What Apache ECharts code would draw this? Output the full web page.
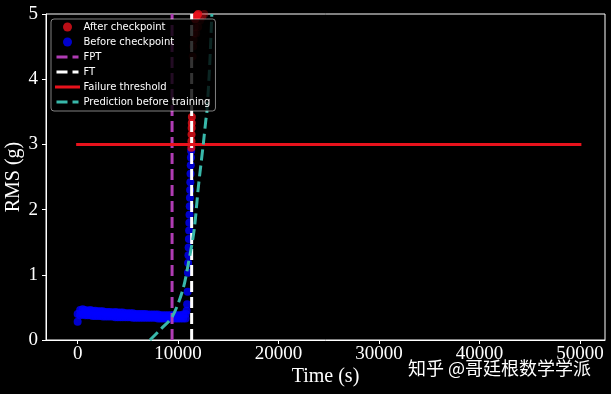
<!DOCTYPE html>
<html><head><meta charset="utf-8">
<script src="https://cdn.jsdelivr.net/npm/echarts@6/dist/echarts.min.js"></script>
<style>html,body{margin:0;padding:0;background:#000}#c{width:611px;height:394px}</style>
</head><body><div id="c"></div>
<script>
// ---- data ----
const xTicks = [0, 10000, 20000, 30000, 40000, 50000];
const yTicks = [0, 1, 2, 3, 4, 5];

// before checkpoint: slowly varying band (upper & lower edge of the dense cloud)
const beforeX = [0,250,500,750,1000,1250,1500,1750,2000,2250,2500,2750,3000,3250,3500,3750,4000,4250,4500,4750,5000,5250,5500,5750,6000,6250,6500,6750,7000,7250,7500,7750,8000,8250,8500,8750,9000,9250,9500,9750,10000,10250,10500,10750];
const beforeHigh = [0.40,0.46,0.47,0.46,0.45,0.46,0.45,0.45,0.44,0.44,0.44,0.43,0.43,0.43,0.42,0.43,0.42,0.42,0.42,0.41,0.41,0.41,0.41,0.40,0.40,0.40,0.40,0.40,0.39,0.39,0.39,0.39,0.39,0.38,0.38,0.38,0.38,0.38,0.38,0.38,0.38,0.38,0.39,0.40];
const beforeLow  = [0.28,0.38,0.39,0.38,0.38,0.38,0.37,0.37,0.37,0.37,0.36,0.36,0.36,0.36,0.36,0.35,0.35,0.35,0.35,0.35,0.35,0.35,0.34,0.34,0.34,0.34,0.34,0.34,0.34,0.34,0.34,0.34,0.33,0.33,0.33,0.33,0.33,0.33,0.33,0.33,0.33,0.33,0.33,0.33];
// before checkpoint: steep rise
const riseX = [10850,10900,10950,10980,11000,11030,11050,11080,11100,11120,11140,11160,11180,11200,11220,11240,11260,11280,11300];
const riseY = [0.45,0.55,0.74,1.03,1.18,1.30,1.42,1.55,1.68,1.80,1.92,2.05,2.18,2.30,2.42,2.55,2.68,2.80,2.90];

// after checkpoint
const afterX = [11320,11330,11340,11350,11360,11370,11700,11800,11900,12000,12100,12200];
const afterY = [2.95,3.05,3.15,3.25,3.33,3.42,4.92,4.96,4.98,5.00,5.02,5.04];
const afterFadeX = [11450,11500,11550,11600,11650,11800,12000,12200,12400,12600];
const afterFadeY = [4.35,4.50,4.60,4.70,4.80,4.70,4.80,4.90,4.95,5.00];

const fptX = 9400;
const ftX = 11350;
const thresholdX = [0, 50000];
const thresholdY = 3;

const predX = [7200,8300,9430,10470,11030,11600,12020,12520,12760,12860,13140,13360];
const predY = [0.00,0.17,0.36,0.77,1.18,1.69,2.35,3.02,3.37,3.48,4.20,5.00];

// ---- build ----
const beforeData = [];
beforeX.forEach((x, i) => { beforeData.push([x, beforeHigh[i]]); beforeData.push([x, beforeLow[i]]); });
riseX.forEach((x, i) => beforeData.push([x, riseY[i]]));
const afterData = afterX.map((x, i) => [x, afterY[i]]);
afterFadeX.forEach((x, i) => afterData.push({ value: [x, afterFadeY[i]], itemStyle: { opacity: 0.3 } }));

const serif = 'Liberation Serif';
const dash = [11, 5];
const lineLegend = (name, color, type) => ({ name, itemStyle: { opacity: 0 }, lineStyle: { color, width: 3, type, opacity: 1 } });

const chart = echarts.init(document.getElementById('c'), null, { renderer: 'canvas' });
chart.setOption({
  backgroundColor: '#000',
  animation: false,
  grid: { left: 46, right: 6, top: 14, bottom: 54, outerBoundsMode: 'none', containLabel: false,
          show: true, borderColor: '#fff', borderWidth: 1, backgroundColor: 'transparent' },
  legend: {
    left: 51, top: 19, orient: 'vertical',
    padding: [2, 5, 3, 4], itemGap: 3, itemWidth: 22, itemHeight: 9,
    backgroundColor: 'rgba(0,0,0,0.8)', borderColor: 'rgba(255,255,255,0.5)', borderWidth: 1, borderRadius: 3,
    textStyle: { color: '#fff', fontFamily: 'DejaVu Sans', fontSize: 10, lineHeight: 12 },
    data: [
      { name: 'After checkpoint', icon: 'circle' },
      { name: 'Before checkpoint', icon: 'circle' },
      lineLegend('FPT', '#b03cb4', dash),
      lineLegend('FT', '#ffffff', dash),
      lineLegend('Failure threshold', '#e8121c', 'solid'),
      lineLegend('Prediction before training', '#38b8aa', dash)
    ]
  },
  xAxis: {
    type: 'value', min: -3150, max: 52500,
    name: 'Time (s)', nameLocation: 'middle', nameGap: 27, nameMoveOverlap: false,
    nameTextStyle: { color: '#fff', fontFamily: serif, fontSize: 20 },
    axisLine: { show: true, onZero: false, lineStyle: { color: '#fff', width: 1 } },
    axisTick: { show: true, inside: false, length: 4, customValues: xTicks, lineStyle: { color: '#fff' } },
    axisLabel: { customValues: xTicks, color: '#fff', fontFamily: serif, fontSize: 19, margin: 5,
                 formatter: v => String(v) },
    splitLine: { show: false }
  },
  yAxis: {
    type: 'value', min: 0, max: 5, interval: 1,
    name: 'RMS (g)', nameLocation: 'middle', nameGap: 22, nameRotate: 90, nameMoveOverlap: false,
    nameTextStyle: { color: '#fff', fontFamily: serif, fontSize: 20 },
    axisLine: { show: true, onZero: false, lineStyle: { color: '#fff', width: 1 } },
    axisTick: { show: true, inside: false, length: 4, customValues: yTicks, lineStyle: { color: '#fff' } },
    axisLabel: { customValues: yTicks, color: '#fff', fontFamily: serif, fontSize: 19, margin: 8,
                 formatter: v => String(v) },
    splitLine: { show: false }
  },
  series: [
    { name: 'Before checkpoint', type: 'scatter', data: beforeData, symbolSize: 8, clip: true,
      itemStyle: { color: '#0000ff' } },
    { name: 'After checkpoint', type: 'scatter', data: afterData, symbolSize: 8, clip: true,
      itemStyle: { color: '#e8121c' } },
    { name: 'FPT', type: 'line', data: [[fptX, 0], [fptX, 5]], showSymbol: false, symbol: 'none',
      itemStyle: { color: '#b03cb4' }, lineStyle: { color: '#b03cb4', width: 3, type: dash } },
    { name: 'FT', type: 'line', data: [[ftX, 0], [ftX, 5]], showSymbol: false, symbol: 'none',
      itemStyle: { color: '#ffffff' }, lineStyle: { color: '#ffffff', width: 3, type: dash } },
    { name: 'Failure threshold', type: 'line', data: thresholdX.map(x => [x, thresholdY]), showSymbol: false, symbol: 'none',
      itemStyle: { color: '#e8121c' }, lineStyle: { color: '#e8121c', width: 3, cap: 'square' } },
    { name: 'Prediction before training', type: 'line', data: predX.map((x, i) => [x, predY[i]]), showSymbol: false, symbol: 'none',
      smooth: 0.3, clip: true,
      itemStyle: { color: '#38b8aa' }, lineStyle: { color: '#38b8aa', width: 3, type: dash } }
  ],
  graphic: [
    { type: 'text', left: 408, top: 359, silent: true,
      style: { text: '知乎 @哥廷根数学学派', fill: '#fff', font: '18px "Noto Sans CJK SC"' } }
  ]
});
</script></body></html>
